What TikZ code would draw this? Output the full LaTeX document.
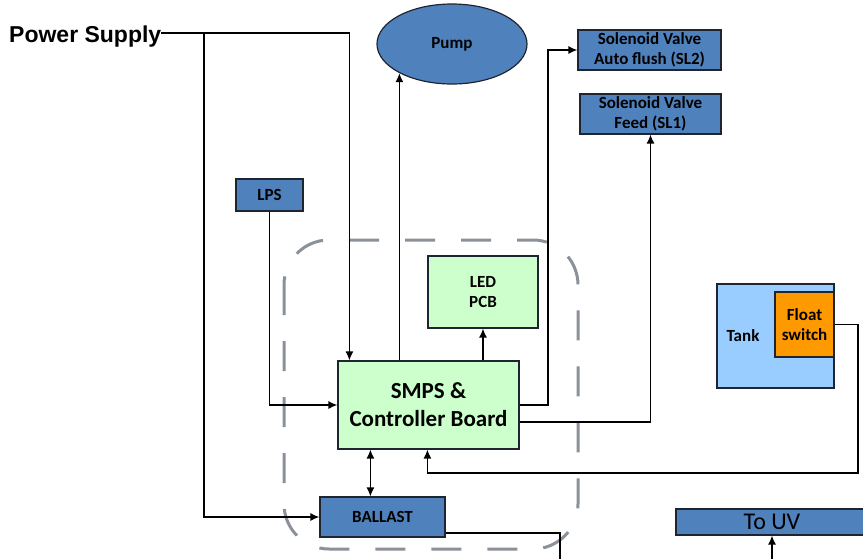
\documentclass[tikz,border=0pt]{standalone}
\usepackage{fontspec}
\setmainfont{Carlito}
\newfontfamily\arialfont{Liberation Sans}
\usetikzlibrary{arrows.meta,shapes.geometric}
\definecolor{boxblue}{RGB}{79,129,189}
\definecolor{boxedge}{RGB}{30,36,48}
\definecolor{boxgreen}{RGB}{204,255,204}
\definecolor{tankblue}{RGB}{153,204,255}
\definecolor{floatorange}{RGB}{255,153,0}
\definecolor{dashgray}{RGB}{138,145,153}

\begin{document}
\begin{tikzpicture}[x=1pt,y=-1pt,
  every node/.append style={inner sep=0pt},
  lbl/.style={font=\fontsize{17}{20}\selectfont\bfseries, align=center},
  bluebox/.style={lbl, draw=boxedge, line width=1.2pt, fill=boxblue},
  greenbox/.style={lbl, draw=boxedge, line width=1.2pt, fill=boxgreen},
  wire/.style={line width=1.3pt, black},
  arr/.style={wire, -{Latex[length=9pt,width=8pt]}},
  arrs/.style={wire, {Latex[length=9pt,width=8pt]}-{Latex[length=9pt,width=8pt]}}]
\useasboundingbox (0,0) rectangle (863,558);
% controller group
\draw [dashgray, line width=3pt, dash pattern=on 30pt off 26pt, rounded corners=45pt] (284,240) rectangle (578,549);
% blocks
\node [anchor=west, font=\arialfont\fontsize{23}{26}\selectfont\bfseries] (ps) at (9,37) {Power Supply};
\node [bluebox, ellipse, minimum width=150pt, minimum height=80pt] (pump) at (452,44) {Pump};
\node [bluebox, minimum width=143pt, minimum height=40pt] (sl2) at (649.5,50) {Solenoid Valve\\Auto flush (SL2)};
\node [bluebox, minimum width=141pt, minimum height=40pt] (sl1) at (650.5,114) {Solenoid Valve\\Feed (SL1)};
\node [bluebox, minimum width=67pt, minimum height=32pt] (lps) at (269.5,195) {LPS};
\node [greenbox, minimum width=110pt, minimum height=72pt] (led) at (483,292) {LED\\PCB};
\node [greenbox, font=\fontsize{23}{28}\selectfont\bfseries, minimum width=181pt, minimum height=88pt] (smps) at (428.5,405) {SMPS \&\\Controller Board};
\node [bluebox, minimum width=125pt, minimum height=40pt] (ballast) at (382.5,517) {BALLAST};
\node [draw=boxedge, line width=1.2pt, fill=tankblue, minimum width=117pt, minimum height=104pt] (tank) at (775.5,336) {};
\node [lbl, anchor=west] (tanktxt) at ([xshift=10pt]tank.west) {Tank};
\node [lbl, draw=boxedge, line width=1.2pt, fill=floatorange, minimum width=59pt, minimum height=65pt] (float) at (804.5,324.5) {Float\\switch};
\node [bluebox, font=\fontsize{24}{28}\selectfont, minimum width=192pt, minimum height=26pt] (touv) at (772,522) {To UV};
% junctions
\coordinate (j1) at (204,33);
\coordinate (j2) at (548,50);
\coordinate (j3) at (858,473);
\coordinate (cut1) at (560,562);
\coordinate (cut2) at (772,562);
\coordinate (pumpout) at ([xshift=62pt]smps.north west);
\coordinate (ballio) at ([xshift=33pt]smps.south west);
% connections
\draw [arr] (ps.east |- j1) -| ([xshift=12pt]smps.north west);
\draw [arr] (j1) |- (ballast.west);
\draw [arr] (pumpout) -- (pump.209 -| pumpout);
\draw [arr] (smps.east) -| (j2) -- (sl2.west);
\draw [arr] ([yshift=-17pt]smps.east) -| (sl1.south);
\draw [arr] (lps.south) |- (smps.west);
\draw [arr] (led.south |- smps.north) -- (led.south);
\draw [arrs] (ballio) -- (ballio |- ballast.north);
\draw [wire] ([yshift=-16pt]ballast.east) -| (cut1);
\draw [arr] (float.east) -| (j3) -| ([xshift=90pt]smps.south west);
\draw [arr] (cut2) -- (touv.south);
\end{tikzpicture}
\end{document}
